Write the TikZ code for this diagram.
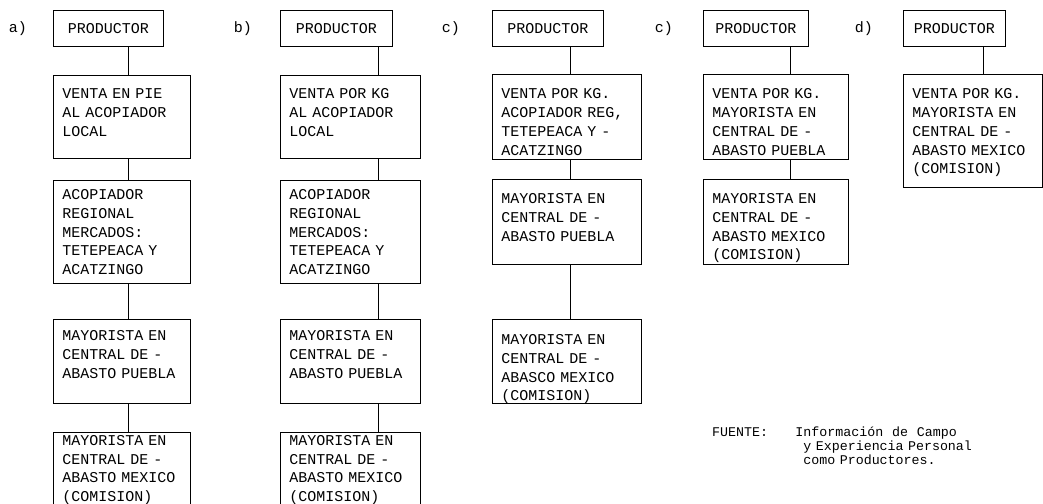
\documentclass[tikz,border=0pt]{standalone}
\usepackage{fontspec}
\setmonofont{Liberation Mono}
\usepackage{tikz}
\usetikzlibrary{positioning}

\begin{document}
\begin{tikzpicture}[
  x=1pt, y=-1pt,
  prod/.style={rectangle, draw=black, line width=0.9pt, anchor=north west, align=center,
              inner sep=0pt, minimum height=36pt, font=\ttfamily\fontsize{15}{18.8}\selectfont},
  caja/.style={rectangle, draw=black, line width=0.9pt, align=left, inner xsep=9pt, inner ysep=0pt,
              font=\ttfamily\fontsize{15}{18.8}\selectfont},
  etiq/.style={inner sep=0pt, font=\ttfamily\fontsize{15}{18.8}\selectfont},
  fuente/.style={inner sep=0pt, font=\ttfamily\fontsize{13.3}{14}\selectfont},
  lin/.style={draw=black, line width=0.9pt}
]
\useasboundingbox (0,0) rectangle (1043,503);
\coordinate (ejeA) at (128,0); \coordinate (ejeB) at (378,0);
\coordinate (ejeC) at (570,0); \coordinate (ejeCp) at (790,0);
\coordinate (ejeD) at (983,0);

% a)
\node[prod, minimum width=110pt] (a1) at (53,10) {PRODUCTOR};
\node[caja, below=28pt of a1.south west, anchor=north west, text width=119pt,
      text height=23.3pt, text depth=59.7pt] (a2) {VENTA EN PIE\\AL ACOPIADOR\\LOCAL};
\node[caja, below=21pt of a2.south west, anchor=north west, text width=119pt,
      text height=19.3pt, text depth=83.7pt] (a3) {ACOPIADOR\\REGIONAL\\MERCADOS:\\TETEPEACA Y\\ACATZINGO};
\node[caja, below=35pt of a3.south west, anchor=north west, text width=119pt,
      text height=21.3pt, text depth=62.7pt] (a4) {MAYORISTA EN\\CENTRAL DE -\\ABASTO PUEBLA};
\node[caja, below=28pt of a4.south west, anchor=north west, text width=119pt,
      text height=13.3pt, text depth=60.7pt] (a5) {MAYORISTA EN\\CENTRAL DE -\\ABASTO MEXICO\\(COMISION)};
\node[etiq, left=26pt of a1] (la) {a)};

% b)
\node[prod, minimum width=112pt] (b1) at (280,10) {PRODUCTOR};
\node[caja, below=28pt of b1.south west, anchor=north west, text width=122pt,
      text height=23.3pt, text depth=59.7pt] (b2) {VENTA POR KG\\AL ACOPIADOR\\LOCAL};
\node[caja, below=21pt of b2.south west, anchor=north west, text width=122pt,
      text height=19.3pt, text depth=83.7pt] (b3) {ACOPIADOR\\REGIONAL\\MERCADOS:\\TETEPEACA Y\\ACATZINGO};
\node[caja, below=35pt of b3.south west, anchor=north west, text width=122pt,
      text height=21.3pt, text depth=62.7pt] (b4) {MAYORISTA EN\\CENTRAL DE -\\ABASTO PUEBLA};
\node[caja, below=28pt of b4.south west, anchor=north west, text width=122pt,
      text height=13.3pt, text depth=60.7pt] (b5) {MAYORISTA EN\\CENTRAL DE -\\ABASTO MEXICO\\(COMISION)};
\node[etiq, left=28pt of b1] (lb) {b)};

% c)
\node[prod, minimum width=111pt] (c1) at (492,10) {PRODUCTOR};
\node[caja, below=27pt of c1.south west, anchor=north west, text width=131pt,
      text height=24.3pt, text depth=60.7pt] (c2) {VENTA POR KG.\\ACOPIADOR REG,\\TETEPEACA Y -\\ACATZINGO};
\node[caja, below=19pt of c2.south west, anchor=north west, text width=131pt,
      text height=24.3pt, text depth=60.7pt] (c3) {MAYORISTA EN\\CENTRAL DE -\\ABASTO PUEBLA};
\node[caja, below=54pt of c3.south west, anchor=north west, text width=131pt,
      text height=25.3pt, text depth=58.7pt] (c4) {MAYORISTA EN\\CENTRAL DE -\\ABASCO MEXICO\\(COMISION)};
\node[etiq, left=32pt of c1] (lc) {c)};

% c) segunda
\node[prod, minimum width=105pt] (cp1) at (703,10) {PRODUCTOR};
\node[caja, below=27pt of cp1.south west, anchor=north west, text width=127pt,
      text height=24.3pt, text depth=60.7pt] (cp2) {VENTA POR KG.\\MAYORISTA EN\\CENTRAL DE -\\ABASTO PUEBLA};
\node[caja, below=19pt of cp2.south west, anchor=north west, text width=127pt,
      text height=24.3pt, text depth=60.7pt] (cp3) {MAYORISTA EN\\CENTRAL DE -\\ABASTO MEXICO\\(COMISION)};
\node[etiq, left=30pt of cp1] (lcp) {c)};

% d)
\node[prod, minimum width=102pt] (d1) at (903,10) {PRODUCTOR};
\node[caja, below=27pt of d1.south west, anchor=north west, text width=121pt,
      text height=24.3pt, text depth=88.7pt] (d2) {VENTA POR KG.\\MAYORISTA EN\\CENTRAL DE -\\ABASTO MEXICO\\(COMISION)};
\node[etiq, left=30pt of d1] (ld) {d)};

\draw[lin] (a1.south -| ejeA) -- (a2.north -| ejeA); \draw[lin] (a2.south -| ejeA) -- (a3.north -| ejeA);
\draw[lin] (a3.south -| ejeA) -- (a4.north -| ejeA); \draw[lin] (a4.south -| ejeA) -- (a5.north -| ejeA);
\draw[lin] (b1.south -| ejeB) -- (b2.north -| ejeB); \draw[lin] (b2.south -| ejeB) -- (b3.north -| ejeB);
\draw[lin] (b3.south -| ejeB) -- (b4.north -| ejeB); \draw[lin] (b4.south -| ejeB) -- (b5.north -| ejeB);
\draw[lin] (c1.south -| ejeC) -- (c2.north -| ejeC); \draw[lin] (c2.south -| ejeC) -- (c3.north -| ejeC);
\draw[lin] (c3.south -| ejeC) -- (c4.north -| ejeC);
\draw[lin] (cp1.south -| ejeCp) -- (cp2.north -| ejeCp); \draw[lin] (cp2.south -| ejeCp) -- (cp3.north -| ejeCp);
\draw[lin] (d1.south -| ejeD) -- (d2.north -| ejeD);

\node[fuente, anchor=base west] (fte) at (712,436) {FUENTE:};
\node[fuente, align=left, text width=200pt, anchor=base west] (ftx) at ([xshift=27pt]fte.base east)
  {Información\ \ de\ \ Campo\\\hspace*{8pt}y Experiencia Personal\\\hspace*{8pt}como Productores.};
\end{tikzpicture}
\end{document}
